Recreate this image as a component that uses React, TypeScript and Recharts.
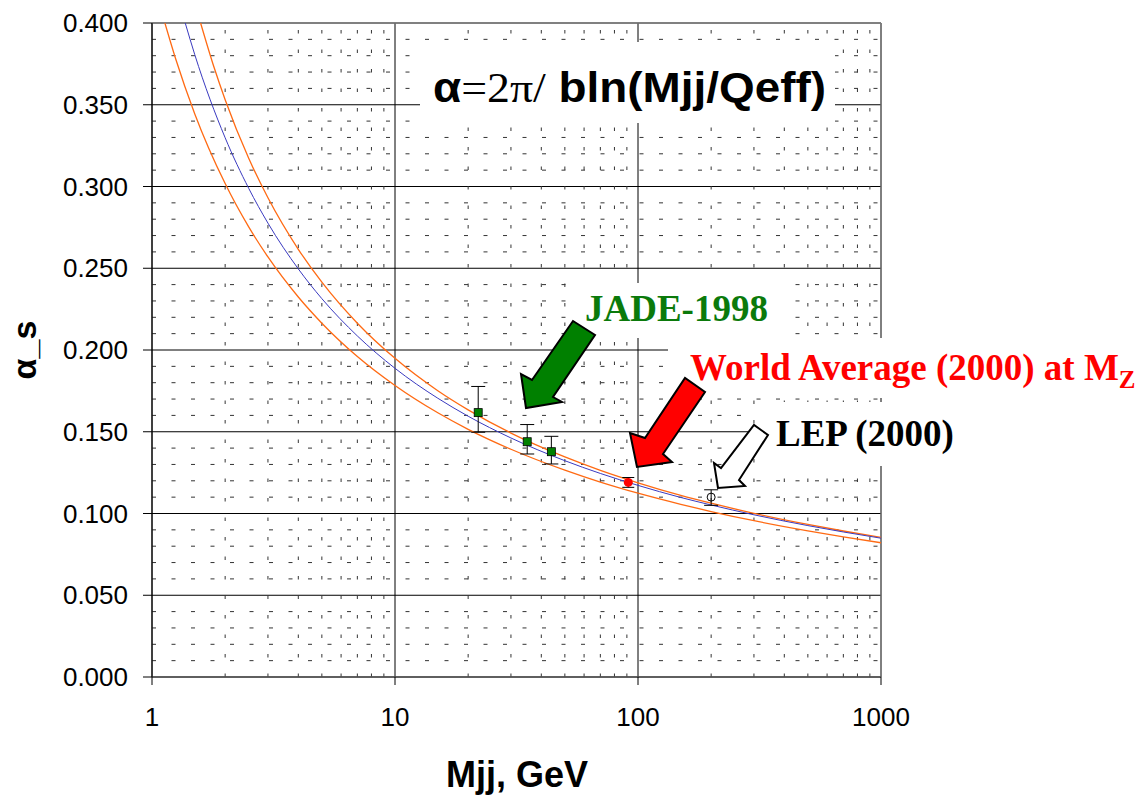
import React from "react";
import {
  ComposedChart,
  Line,
  Scatter,
  ErrorBar,
  XAxis,
  YAxis,
  CartesianGrid,
  ReferenceLine,
} from "recharts";

// curves (Mjj in GeV, alpha_s)
const centralMass = [1.37, 1.5, 2, 2.5, 3, 4, 5, 7, 10, 15, 20, 30, 50, 70, 100, 150, 200, 300, 500, 700, 1000];
const centralAlpha = [0.4, 0.3806, 0.3298, 0.2989, 0.2776, 0.2496, 0.2314, 0.2086, 0.1888, 0.1705, 0.1595, 0.1462, 0.1323, 0.1245, 0.1172, 0.1098, 0.1052, 0.0992, 0.0926, 0.0887, 0.0849];

const upperMass = [1.585, 1.8, 2, 2.5, 3, 4, 5, 7, 10, 15, 20, 30, 50, 70, 100, 150, 200, 300, 500, 700, 1000];
const upperAlpha = [0.4, 0.3729, 0.3531, 0.3173, 0.2931, 0.2616, 0.2415, 0.2164, 0.1949, 0.1751, 0.1634, 0.1492, 0.1346, 0.1264, 0.1188, 0.1111, 0.1063, 0.1001, 0.0933, 0.0893, 0.0854];

const lowerMass = [1.13, 1.25, 1.5, 2, 2.5, 3, 4, 5, 7, 10, 15, 20, 30, 50, 70, 100, 150, 200, 300, 500, 700, 1000];
const lowerAlpha = [0.4, 0.3783, 0.3444, 0.3018, 0.2753, 0.2569, 0.2324, 0.2164, 0.196, 0.1783, 0.1616, 0.1515, 0.1393, 0.1265, 0.1192, 0.1124, 0.1056, 0.1012, 0.0956, 0.0894, 0.0857, 0.0821];

// measurements
const jadeMass = [22, 35, 44];
const jadeAlpha = [0.1617, 0.1439, 0.1378];
const jadeErr = [[0.012, 0.016], [0.0075, 0.0105], [0.0075, 0.0094]];

const worldMass = [91.2];
const worldAlpha = [0.119];
const worldErr = [[0.003, 0.003]];

const lepMass = [200];
const lepAlpha = [0.11];
const lepErr = [[0.005, 0.0045]];

// axes
const massTicks = [1, 10, 100, 1000];
const alphaTicks = [0, 0.05, 0.1, 0.15, 0.2, 0.25, 0.3, 0.35, 0.4];
const minorAlpha = [
  0.01, 0.02, 0.03, 0.04, 0.06, 0.07, 0.08, 0.09, 0.11, 0.12, 0.13, 0.14,
  0.16, 0.17, 0.18, 0.19, 0.21, 0.22, 0.23, 0.24, 0.26, 0.27, 0.28, 0.29,
  0.31, 0.32, 0.33, 0.34, 0.36, 0.37, 0.38, 0.39,
];
const minorMass = [2, 3, 4, 5, 6, 7, 8, 9, 20, 30, 40, 50, 60, 70, 80, 90, 200, 300, 400, 500, 600, 700, 800, 900];

const toRows = (m: number[], a: number[], err?: number[][]) =>
  m.map((v, i) => ({ m: v, a: a[i], err: err ? err[i] : undefined }));

const centralData = toRows(centralMass, centralAlpha);
const upperData = toRows(upperMass, upperAlpha);
const lowerData = toRows(lowerMass, lowerAlpha);
const jadeData = toRows(jadeMass, jadeAlpha, jadeErr);
const worldData = toRows(worldMass, worldAlpha, worldErr);
const lepData = toRows(lepMass, lepAlpha, lepErr);

const sans = "'Liberation Sans', Arial, sans-serif";
const serif = "'Liberation Serif', 'Times New Roman', serif";
const tickStyle = { fill: "#000", fontSize: 26, fontFamily: sans };

const JadeSquare = (p: any) => (
  <rect x={p.cx - 4} y={p.cy - 4} width={8} height={8} fill="#008000" stroke="#000" strokeWidth={0.8} />
);
const WorldDot = (p: any) => <circle cx={p.cx} cy={p.cy} r={4.5} fill="#ff0000" />;
const LepDot = (p: any) => <circle cx={p.cx} cy={p.cy} r={4} fill="none" stroke="#000" strokeWidth={1} />;

export default function App() {
  return (
    <div style={{ position: "relative", width: 1140, height: 787 }}>
      <ComposedChart width={1140} height={787} margin={{ top: 15, right: 267, bottom: 58, left: 40 }}>
        <CartesianGrid stroke="#000" strokeWidth={1} />
        {minorAlpha.map((v) => (
          <ReferenceLine key={"h" + v} y={v} stroke="#333" strokeWidth={1} strokeDasharray="4 15.5" />
        ))}
        {minorMass.map((v) => (
          <ReferenceLine key={"v" + v} x={v} stroke="#333" strokeWidth={1} strokeDasharray="3.5 16" />
        ))}
        <ReferenceLine y={0.4} stroke="#808080" strokeWidth={1.5} />
        <ReferenceLine x={1000} stroke="#808080" strokeWidth={1.2} />
        <XAxis
          dataKey="m"
          type="number"
          scale="log"
          domain={[1, 1000]}
          ticks={massTicks}
          allowDataOverflow
          height={60}
          tickSize={8}
          tickMargin={23}
          tick={tickStyle}
          axisLine={{ stroke: "#555", strokeWidth: 1.5 }}
          tickLine={{ stroke: "#000" }}
        />
        <YAxis
          type="number"
          domain={[0, 0.4]}
          ticks={alphaTicks}
          allowDataOverflow
          width={104}
          tickSize={9}
          tickMargin={15}
          tick={tickStyle}
          tickFormatter={(v: number) => v.toFixed(3)}
          axisLine={{ stroke: "#000" }}
          tickLine={{ stroke: "#000" }}
        />
        <Line data={upperData} dataKey="a" type="monotone" stroke="#ff6a13" strokeWidth={1.3} dot={false} activeDot={false} isAnimationActive={false} />
        <Line data={lowerData} dataKey="a" type="monotone" stroke="#ff6a13" strokeWidth={1.3} dot={false} activeDot={false} isAnimationActive={false} />
        <Line data={centralData} dataKey="a" type="monotone" stroke="#3a3ac0" strokeWidth={1} dot={false} activeDot={false} isAnimationActive={false} />
        <Scatter data={jadeData} dataKey="a" shape={JadeSquare} isAnimationActive={false}>
          <ErrorBar dataKey="err" direction="y" width={7} stroke="#000" strokeWidth={1} isAnimationActive={false} />
        </Scatter>
        <Scatter data={worldData} dataKey="a" shape={WorldDot} isAnimationActive={false}>
          <ErrorBar dataKey="err" direction="y" width={6} stroke="#000" strokeWidth={1} isAnimationActive={false} />
        </Scatter>
        <Scatter data={lepData} dataKey="a" shape={LepDot} isAnimationActive={false}>
          <ErrorBar dataKey="err" direction="y" width={7} stroke="#000" strokeWidth={1} isAnimationActive={false} />
        </Scatter>
      </ComposedChart>

      {/* annotations, in page coordinates */}
      <svg width={1148} height={795} style={{ position: "absolute", left: -8, top: -8, pointerEvents: "none" }}>
        <rect x={420} y={42} width={415} height={81} fill="#fff" />
        <rect x={575} y={283} width={217} height={55} fill="#fff" />
        <rect x={668} y={338} width={480} height={60} fill="#fff" />
        <rect x={756} y={402} width={210} height={64} fill="#fff" />

        <text x={433} y={102} fontSize={42} fontWeight="bold" fontFamily={sans} textLength={393} lengthAdjust="spacingAndGlyphs">
          <tspan>α</tspan>
          <tspan fontFamily={serif} fontWeight="normal">=2π/</tspan>
          <tspan> bln(Mjj/Qeff)</tspan>
        </text>

        <text x={585} y={321} fontSize={37} fontWeight="bold" fontFamily={serif} fill="#0b7a0b">
          JADE-1998
        </text>
        <text x={690} y={380} fontSize={37} fontWeight="bold" fontFamily={serif} fill="#ff0000">
          World Average (2000) at M
          <tspan fontSize={25} dy={8}>Z</tspan>
        </text>
        <text x={776} y={446} fontSize={37} fontWeight="bold" fontFamily={serif} fill="#000">
          LEP (2000)
        </text>

        <polygon points="526,408 521,374 532,380 573,321 595,335 553,397 562,402" fill="#008000" stroke="#000" strokeWidth={2} />
        <polygon points="637,467 630,433 645,438 685,378 705,392 663,454 672,462" fill="#ff0000" stroke="#000" strokeWidth={2} />
        <polygon points="718,488 714,463 721,468 754,425 768,435 739,480 745,486" fill="#fff" stroke="#000" strokeWidth={2} />

        <text x={36} y={350} fontSize={34} fontWeight="bold" fontFamily={sans} textAnchor="middle" transform="rotate(-90 36 350)">
          α_s
        </text>
        <text x={517} y={787} fontSize={36} fontWeight="bold" fontFamily={sans} textAnchor="middle">
          Mjj, GeV
        </text>
      </svg>
    </div>
  );
}
